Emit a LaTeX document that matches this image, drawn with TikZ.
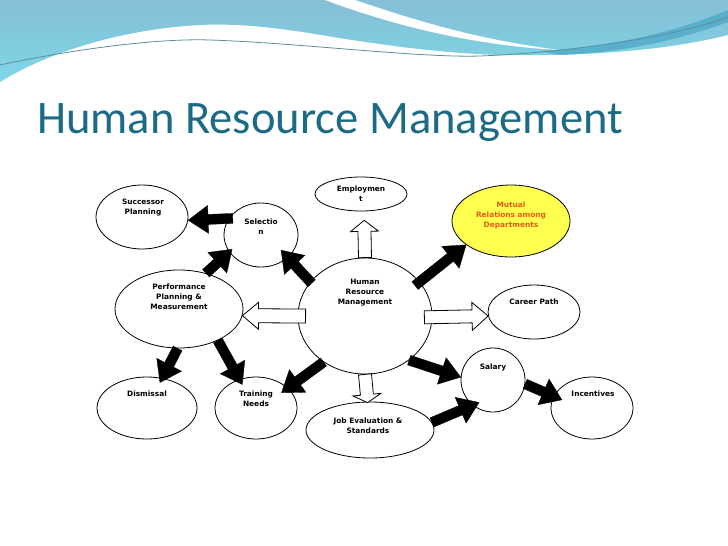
\documentclass[tikz,border=0pt]{standalone}
\usepackage{fontspec}
\setmainfont{DejaVu Sans}
\newfontfamily\titlefont{Carlito}
\usetikzlibrary{shapes.geometric,calc}
\definecolor{titleblue}{HTML}{1C6B84}
\definecolor{mutyellow}{HTML}{FFFF4F}
\definecolor{mutorange}{HTML}{E85A1A}
\definecolor{bantop}{HTML}{86BED6}
\definecolor{banbot}{HTML}{7CD8E7}
\definecolor{banband}{HTML}{4FA9C9}
\definecolor{banline}{HTML}{5E8E9C}
\tikzset{
  ell/.style={ellipse, draw=black, line width=0.8pt, fill=white, inner sep=0pt},
  lbl/.style={font=\fontsize{7.4}{10}\selectfont\bfseries, align=center, inner sep=0pt},
  blk/.style={fill=black, draw=black, line width=0.3pt, line join=miter},
  wht/.style={fill=white, draw=black, line width=0.8pt, line join=miter},
}
% #1 style, #2 start, #3 tip, #4 start ext, #5 tip ext, #6 shaft half width, #7 head half width, #8 head length
\newcommand\blockarrow[8]{%
  \coordinate (ba-s0) at #2;
  \coordinate (ba-t0) at #3;
  \coordinate (ba-s) at ($(ba-s0)!-#4pt!(ba-t0)$);
  \coordinate (ba-t) at ($(ba-t0)!-#5pt!(ba-s0)$);
  \coordinate (ba-h) at ($(ba-t)!#8pt!(ba-s)$);
  \draw[#1] ($(ba-s)!#6pt!90:(ba-t)$) -- ($(ba-h)!#6pt!90:(ba-t)$) -- ($(ba-h)!#7pt!90:(ba-t)$) -- (ba-t)
    -- ($(ba-h)!#7pt!-90:(ba-t)$) -- ($(ba-h)!#6pt!-90:(ba-t)$) -- ($(ba-s)!#6pt!-90:(ba-t)$) -- cycle;
}
\newcommand\blk[4]{\blockarrow{blk}{#1}{#2}{#3}{#4}{5}{14}{20}}
\begin{document}
\begin{tikzpicture}[x=1pt,y=-1pt]
\useasboundingbox[fill=white] (0,0) rectangle (728,546);
% banner
\shade[top color=bantop, bottom color=banbot]
  (0,0) -- (728,0) -- (728,35) .. controls (660,52) and (580,56) .. (500,55)
  .. controls (440,53) and (390,46) .. (333,37) .. controls (280,28) and (240,23) .. (200,25)
  .. controls (140,28) and (60,45) .. (0,82) -- cycle;
\fill[white] (325,0) -- (355,0) .. controls (420,22) and (480,40) .. (560,50)
  .. controls (480,46) and (400,28) .. (325,0) -- cycle;
\fill[banband, opacity=0.8] (540,51) .. controls (620,46) and (680,30) .. (728,10) -- (728,22)
  .. controls (680,40) and (620,53) .. (560,55) -- cycle;
\draw[banline, line width=0.8pt] (0,65) .. controls (60,52) and (150,38) .. (210,40)
  .. controls (300,43) and (420,58) .. (480,56) .. controls (580,52) and (680,35) .. (728,17);
% title
\node[anchor=base west, inner sep=0pt, text=titleblue, font=\titlefont\fontsize{46.6}{50}\selectfont] (title) at (37,133) {Human Resource Management};
% ellipses
\node[ell, minimum width=92pt, minimum height=64pt] (sp) at (142,217) {};
\node[ell, minimum width=74pt, minimum height=64pt] (sel) at (261,235) {};
\node[ell, minimum width=92pt, minimum height=34pt] (emp) at (361,194) {};
\node[ell, fill=mutyellow, minimum width=118pt, minimum height=72pt] (mut) at (511,221) {};
\node[ell, minimum width=128pt, minimum height=78pt] (perf) at (179,309) {};
\node[ell, minimum width=134pt, minimum height=116pt] (hrm) at (365,316) {};
\node[ell, minimum width=92pt, minimum height=54pt] (cp) at (534,312) {};
\node[ell, minimum width=64pt, minimum height=64pt] (sal) at (493,380) {};
\node[ell, minimum width=82pt, minimum height=62pt] (inc) at (592,408) {};
\node[ell, minimum width=100pt, minimum height=62pt] (dis) at (147,408) {};
\node[ell, minimum width=82pt, minimum height=62pt] (tn) at (256,408) {};
\node[ell, minimum width=128pt, minimum height=56pt] (je) at (370,430) {};
% black arrows
\blk{(sel.153)}{(sp.-4)}{4}{0}
\blk{(perf.53)}{(sel.208)}{0}{4}
\blk{(hrm.148)}{(sel.-40)}{2}{10}
\blk{(hrm.32)}{(mut.208)}{6}{0}
\blk{(perf.-92)}{(dis.63)}{0}{5}
\blk{(perf.-39)}{(tn.120)}{0}{6}
\blk{(hrm.228)}{(tn.32)}{0}{8}
\blk{(hrm.-45)}{(sal.175)}{0}{0}
\blk{(je.7)}{(sal.231)}{0}{7}
\blk{(sal.-7)}{(inc.163)}{0}{9}
% white arrows
\blockarrow{wht}{(hrm.north)}{(emp.-80)}{0}{-9}{6.5}{14}{11}
\blockarrow{wht}{(hrm.180)}{(perf.-6)}{8}{0}{7}{13.5}{16}
\blockarrow{wht}{(hrm.-1)}{(cp.185)}{8}{0}{6.5}{14}{16}
\blockarrow{wht}{(hrm.-90)}{(je.95)}{0}{1}{6.5}{14}{8}
% labels
\node[lbl] (sp-t) at (143,207.5) {Successor\\Planning};
\node[lbl] (sel-t) at (261,226.5) {Selectio\\n};
\node[lbl] (emp-t) at (361,193.5) {Employmen\\t};
\node[lbl, text=mutorange] (mut-t) at (511,215) {Mutual\\Relations among\\Departments};
\node[lbl] (perf-t) at (179,297) {Performance\\Planning \&\\Measurement};
\node[lbl] (hrm-t) at (365,293) {Human\\Resource\\Management};
\node[lbl] (cp-t) at (534,302) {Career Path};
\node[lbl] (sal-t) at (493,367) {Salary};
\node[lbl] (inc-t) at (593,394) {Incentives};
\node[lbl] (dis-t) at (147,394) {Dismissal};
\node[lbl] (tn-t) at (256,399) {Training\\Needs};
\node[lbl] (je-t) at (368,425.5) {Job Evaluation \&\\Standards};
\end{tikzpicture}
\end{document}
